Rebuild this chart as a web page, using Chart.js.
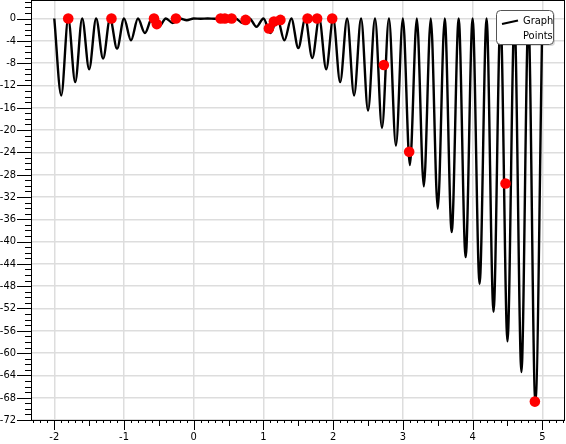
<!DOCTYPE html>
<html>
<head>
<meta charset="utf-8">
<script src="https://cdn.jsdelivr.net/npm/chart.js@4"></script>
<style>
  html, body { margin: 0; padding: 0; background: #fff; }
  #wrap { width: 566px; height: 444px; }
</style>
</head>
<body>
<div id="wrap"><canvas id="grafico"></canvas></div>
<script>
// curve tops (value 0) and bottoms of each dip
const topsX = [-2.0, -1.8, -1.6, -1.4, -1.2, -1.0, -0.8, -0.6, -0.4, -0.2, 0.0, 0.2, 0.4, 0.6, 0.8, 1.0, 1.2, 1.4, 1.6, 1.8,
  2.0, 2.2, 2.4, 2.6, 2.8, 3.0, 3.2, 3.4, 3.6, 3.8, 4.0, 4.2, 4.4, 4.6, 4.8, 5.0];
const dipsX = [-1.9, -1.7, -1.5, -1.3, -1.1, -0.9, -0.7, -0.5, -0.3, -0.1, 0.1, 0.3, 0.5, 0.7, 0.9, 1.1, 1.3, 1.5, 1.7,
  1.9, 2.1, 2.3, 2.5, 2.7, 2.9, 3.1, 3.3, 3.5, 3.7, 3.9, 4.1, 4.3, 4.5, 4.7, 4.9];
const dipsY = [-13.8, -11.4, -9.1, -7.2, -5.4, -3.9, -2.6, -1.5, -0.8, -0.3, -0.05, -0.05, -0.3, -0.8, -1.5, -2.6, -3.9, -5.3, -7.1,
  -9.1, -11.4, -13.8, -16.5, -19.6, -22.8, -26.3, -30.1, -34.1, -38.3, -42.8, -47.6, -52.6, -57.9, -63.4, -69.0];

// red sample points
const puntosX = [-1.80, -1.18, -0.57, -0.53, -0.255, 0.386, 0.447, 0.543, 0.744, 1.078, 1.15, 1.243, 1.633, 1.77, 1.986,
  2.727, 3.09, 4.472, 4.893];
const puntosY = [0, 0, 0, -1.0, 0, 0, 0, 0, -0.25, -1.8, -0.55, -0.25, 0, 0, 0, -8.35, -23.9, -29.6, -68.7];

const ticksX = [-2, -1, 0, 1, 2, 3, 4, 5];
const ticksY = [0, -4, -8, -12, -16, -20, -24, -28, -32, -36, -40, -44, -48, -52, -56, -60, -64, -68, -72];

const curva = [];
topsX.forEach((x, i) => {
  curva.push({ x: x, y: 0 });
  if (i < dipsX.length) curva.push({ x: dipsX[i], y: dipsY[i] });
});
const puntos = puntosX.map((x, i) => ({ x: x, y: puntosY[i] }));

const fuente = '"DejaVu Sans Condensed", "DejaVu Sans", sans-serif';
Chart.defaults.font.family = fuente;
Chart.defaults.font.size = 11;
Chart.defaults.color = '#000';

// tick marks, frame and the little legend box
const marcos = {
  id: 'marcos',
  afterDraw(chart) {
    const { ctx, chartArea: a, scales: { x, y } } = chart;
    ctx.save();
    ctx.strokeStyle = '#000';
    ctx.lineWidth = 1;
    ctx.beginPath();
    for (let i = -23; i <= 53; i++) {
      const px = Math.round(x.getPixelForValue(i / 10)) + 0.5;
      if (px < a.left || px > a.right) continue;
      const largo = i % 10 === 0 ? 10 : (i % 5 === 0 ? 6 : 3);
      ctx.moveTo(px, a.bottom);
      ctx.lineTo(px, a.bottom + largo);
    }
    for (let v = -72; v <= 3; v++) {
      const py = Math.round(y.getPixelForValue(v)) + 0.5;
      const largo = v % 4 === 0 ? 14 : 6;
      ctx.moveTo(a.left - largo, py);
      ctx.lineTo(a.left, py);
    }
    ctx.stroke();
    ctx.strokeRect(a.left + 0.5, a.top + 0.5, a.right - a.left - 1, a.bottom - a.top);

    // legend
    const bx = 496.5, by = 10.5, bw = 57, bh = 34;
    ctx.fillStyle = 'rgba(0,0,0,0.15)';
    ctx.beginPath();
    ctx.roundRect(bx + 1.5, by + 1.5, bw, bh, 4);
    ctx.fill();
    ctx.fillStyle = '#fff';
    ctx.strokeStyle = '#555';
    ctx.beginPath();
    ctx.roundRect(bx, by, bw, bh, 4);
    ctx.fill();
    ctx.stroke();
    ctx.strokeStyle = '#000';
    ctx.lineWidth = 2.2;
    ctx.beginPath();
    ctx.moveTo(502, 24);
    ctx.lineTo(518, 20.5);
    ctx.stroke();
    ctx.fillStyle = '#000';
    ctx.font = '11px ' + fuente;
    ctx.textBaseline = 'middle';
    ctx.textAlign = 'left';
    const nombres = chart.data.datasets.map((d) => d.label);
    ctx.fillText(nombres[0], 523, 21.5);
    ctx.fillText(nombres[1], 523, 36);
    ctx.restore();
  }
};

const ctx = document.getElementById('grafico');
new Chart(ctx, {
  type: 'line',
  data: {
    datasets: [{
      label: 'Graph',
      data: curva,
      borderColor: '#000',
      borderWidth: 2.4,
      pointRadius: 0,
      cubicInterpolationMode: 'monotone',
      order: 2
    }, {
      label: 'Points',
      type: 'scatter',
      data: puntos,
      backgroundColor: '#ff0000',
      borderWidth: 0,
      pointRadius: 5.3,
      order: 1
    }]
  },
  options: {
    responsive: true,
    maintainAspectRatio: false,
    animation: false,
    layout: { autoPadding: false, padding: { top: 0, right: 1, left: 0, bottom: 0 } },
    plugins: {
      legend: { display: false },
      tooltip: { enabled: false }
    },
    scales: {
      x: {
        type: 'linear',
        min: -2.334,
        max: 5.325,
        afterBuildTicks: (s) => { s.ticks = ticksX.map((v) => ({ value: v })); },
        afterFit: (s) => { s.height = 24; s.paddingLeft = 0; s.paddingRight = 0; },
        ticks: { padding: 11, maxRotation: 0, callback: (v) => String(v) },
        grid: { color: '#dddddd', lineWidth: 1.5, drawTicks: false },
        border: { display: false }
      },
      y: {
        type: 'linear',
        min: -72,
        max: 3.32,
        afterBuildTicks: (s) => { s.ticks = ticksY.map((v) => ({ value: v })); },
        afterFit: (s) => { s.width = 31; s.paddingTop = 0; s.paddingBottom = 0; },
        ticks: { padding: 15, callback: (v) => String(v) },
        grid: { color: '#dddddd', lineWidth: 1.5, drawTicks: false },
        border: { display: false }
      }
    }
  },
  plugins: [marcos]
});
</script>
</body>
</html>
